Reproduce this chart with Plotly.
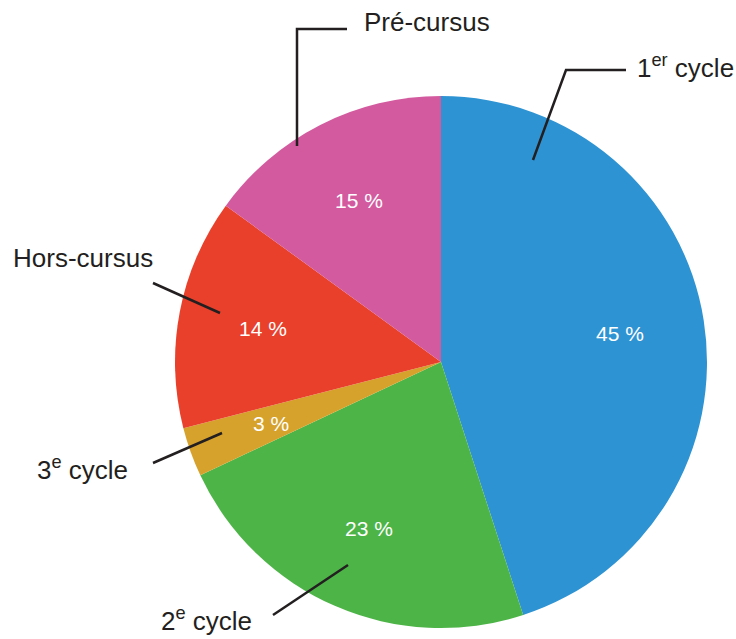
import math
import plotly.graph_objects as go

categories = ["1<sup>er</sup> cycle", "2<sup>e</sup> cycle", "3<sup>e</sup> cycle", "Hors-cursus", "Pré-cursus"]
values = [45, 23, 3, 14, 15]
colors = ["#2E93D3", "#4DB447", "#D6A22C", "#E9402B", "#D35A9E"]

W, H = 736, 639
FONT = "Liberation Sans, Arial, Helvetica, sans-serif"

# pie geometry (pixels)
CX, CY, R = 441, 362, 266

fig = go.Figure()
fig.add_trace(go.Pie(
    labels=categories, values=values, sort=False, direction="clockwise", rotation=0,
    marker=dict(colors=colors, line=dict(width=0)),
    textinfo="none",
    domain=dict(x=[(CX - R) / W, (CX + R) / W], y=[(H - CY - R) / H, (H - CY + R) / H]),
    showlegend=False, hoverinfo="label+percent",
))

# percentage labels placed along each slice's mid-angle (derived from the values)
total = sum(values)
cum = 0
for v in values:
    mid = (cum + v / 2) / total * 2 * math.pi
    cum += v
    rr = 0.68 * R
    fig.add_annotation(x=CX + rr * math.sin(mid), y=CY - rr * math.cos(mid),
                       xref="x", yref="y", text=f"{v} %", showarrow=False,
                       font=dict(size=21, color="white", family=FONT))

# External labels (text, x, y, box width) and leader-line paths in pixel space
ext_labels = [
    ("Pré-cursus", 363, 22, 150),
    ("1<sup>er</sup> cycle", 636, 66, 100),
    ("Hors-cursus", 12, 258, 160),
    ("3<sup>e</sup> cycle", 36, 468, 110),
    ("2<sup>e</sup> cycle", 160, 619, 110),
]
leaders = [
    [(347, 29), (297, 29), (297, 146)],
    [(626, 70), (566, 70), (533, 160)],
    [(153, 283), (220, 313)],
    [(153, 463), (222, 433)],
    [(273, 615), (348, 565)],
]

for txt, x, y, w in ext_labels:
    fig.add_annotation(x=x, y=y, xref="x", yref="y", text=txt, showarrow=False,
                       xanchor="left", yanchor="middle", align="left", width=w,
                       borderpad=0,
                       font=dict(size=26, color="#231F20", family=FONT))
for pts in leaders:
    path = "M " + " L ".join(f"{px},{py}" for px, py in pts)
    fig.add_shape(type="path", path=path, xref="x", yref="y",
                  line=dict(color="#231F20", width=2.5))

fig.update_layout(
    width=W, height=H, margin=dict(l=0, r=0, t=0, b=0),
    paper_bgcolor="white", plot_bgcolor="rgba(0,0,0,0)",
    xaxis=dict(range=[0, W], visible=False, fixedrange=True),
    yaxis=dict(range=[H, 0], visible=False, fixedrange=True),
)
fig.write_html("out.html", config={"displayModeBar": False},
               post_script="document.body.style.margin='0';document.body.style.overflow='hidden';")
